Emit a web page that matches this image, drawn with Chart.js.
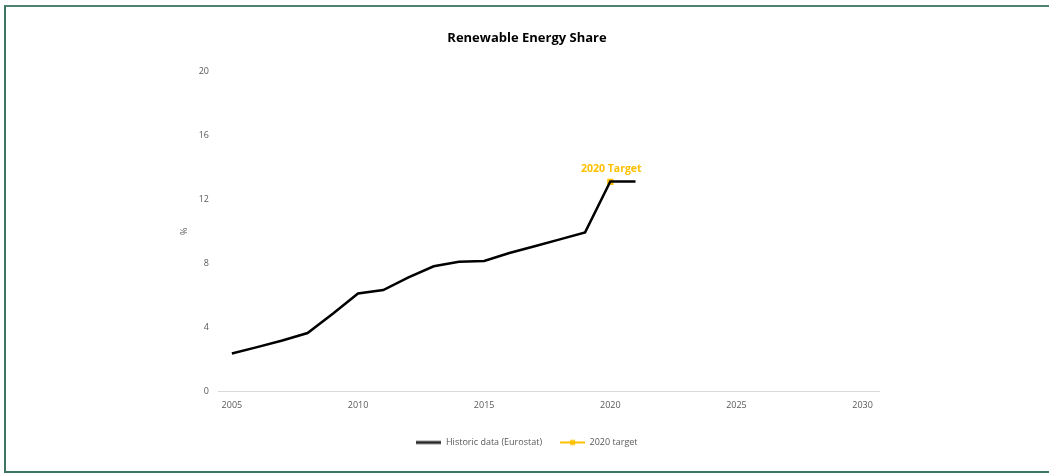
<!DOCTYPE html>
<html>
<head>
<meta charset="utf-8">
<script src="https://cdn.jsdelivr.net/npm/chart.js@4/dist/chart.umd.min.js"></script>
<style>
  html, body { margin: 0; padding: 0; background: #ffffff; overflow: hidden; width: 1049px; height: 473px; }
  #frame { position: absolute; left: 4px; top: 5px; width: 1045px; height: 464px; box-sizing: content-box;
           border-left: 2px solid #3d7464; border-top: 2px solid #4f8272; border-bottom: 2px solid #3d7464; border-right: none; }
  #wrap { position: absolute; left: 0; top: 0; width: 1049px; height: 473px; }
</style>
</head>
<body>
<div id="frame"></div>
<div id="wrap"><canvas id="c" width="1049" height="473"></canvas></div>
<script>
const chartTitle = "Renewable Energy Share";
const years = [2005, 2006, 2007, 2008, 2009, 2010, 2011, 2012, 2013, 2014, 2015, 2016, 2017, 2018, 2019, 2020, 2021];
const historic = [2.36, 2.76, 3.17, 3.64, 4.85, 6.12, 6.33, 7.12, 7.82, 8.1, 8.15, 8.65, 9.07, 9.5, 9.94, 13.12, 13.12];
const targetYears = [2020];
const targetValues = [13.1];
const targetLabel = "2020 Target";
const xTicks = [2005, 2010, 2015, 2020, 2025, 2030];
const yTicks = [0, 4, 8, 12, 16, 20];
const seriesNames = ["Historic data (Eurostat)", "2020 target"];
const yTitle = "%";

const FONT = "'Open Sans', 'Liberation Sans', sans-serif";
const GREY = "#595959";
const GOLD = "#FFC000";

function legendIcon(color, marker) {
  const cv = document.createElement('canvas');
  cv.width = 25; cv.height = 8;
  const g = cv.getContext('2d');
  g.strokeStyle = color; g.lineWidth = marker ? 2 : 3;
  g.beginPath(); g.moveTo(0, 4); g.lineTo(25, 4); g.stroke();
  if (marker) { g.fillStyle = color; g.fillRect(10, 1.5, 5, 5); }
  return cv;
}

const labelPlugin = {
  id: 'targetLabel',
  afterDatasetsDraw(chart) {
    const { ctx, scales } = chart;
    ctx.save();
    ctx.font = "bold 10.5px " + FONT;
    ctx.fillStyle = GOLD;
    ctx.textAlign = 'center';
    ctx.textBaseline = 'bottom';
    const x = scales.x.getPixelForValue(targetYears[0]);
    const y = scales.y.getPixelForValue(targetValues[0]);
    ctx.fillText(targetLabel, x + 1, y - 8);
    ctx.restore();
  }
};

new Chart(document.getElementById('c'), {
  type: 'line',
  data: {
    datasets: [
      {
        label: seriesNames[0],
        data: years.map((y, i) => ({ x: y, y: historic[i] })),
        borderColor: '#000000',
        backgroundColor: '#000000',
        borderWidth: 2.5,
        pointRadius: 0,
        tension: 0
      },
      {
        label: seriesNames[1],
        data: targetYears.map((y, i) => ({ x: y, y: targetValues[i] })),
        borderColor: GOLD,
        backgroundColor: GOLD,
        borderWidth: 2,
        pointRadius: 3,
        pointStyle: 'rect',
        showLine: false
      }
    ]
  },
  plugins: [labelPlugin],
  options: {
    responsive: false,
    animation: false,
    layout: { padding: { left: 175, right: 170, top: 0, bottom: 16 } },
    plugins: {
      title: {
        display: true, text: chartTitle, color: '#000000',
        font: { family: FONT, size: 13, weight: 'bold' },
        padding: { top: 30, bottom: 26 }
      },
      legend: {
        position: 'bottom',
        labels: {
          color: GREY,
          font: { family: FONT, size: 9 },
          usePointStyle: true,
          pointStyleWidth: 25,
          boxHeight: 8,
          padding: 18,
          generateLabels(chart) {
            return chart.data.datasets.map((ds, i) => ({
              text: ds.label,
              pointStyle: i === 0 ? legendIcon('#262626', false) : legendIcon(GOLD, true),
              fillStyle: ds.borderColor, strokeStyle: ds.borderColor,
              lineWidth: 0, hidden: false, datasetIndex: i, fontColor: GREY
            }));
          }
        }
      },
      tooltip: { enabled: false }
    },
    scales: {
      x: {
        type: 'linear', min: 2004.45, max: 2030.65,
        grid: { display: false, drawTicks: false },
        border: { display: true, color: '#d9d9d9', width: 1 },
        afterBuildTicks(scale) { scale.ticks = xTicks.map(v => ({ value: v })); },
        ticks: { color: GREY, font: { family: FONT, size: 9 }, padding: 9, maxRotation: 0,
                 autoSkip: false, callback: v => String(v) }
      },
      y: {
        min: 0, max: 20,
        grid: { display: false, drawTicks: false },
        border: { display: false },
        afterBuildTicks(scale) { scale.ticks = yTicks.map(v => ({ value: v })); },
        afterFit(scale) { scale.width = 43; },
        title: { display: true, text: yTitle, color: GREY, font: { family: FONT, size: 9 }, padding: { top: 4, bottom: 0 } },
        ticks: { color: GREY, font: { family: FONT, size: 9 }, padding: 9 }
      }
    }
  }
});
</script>
</body>
</html>
